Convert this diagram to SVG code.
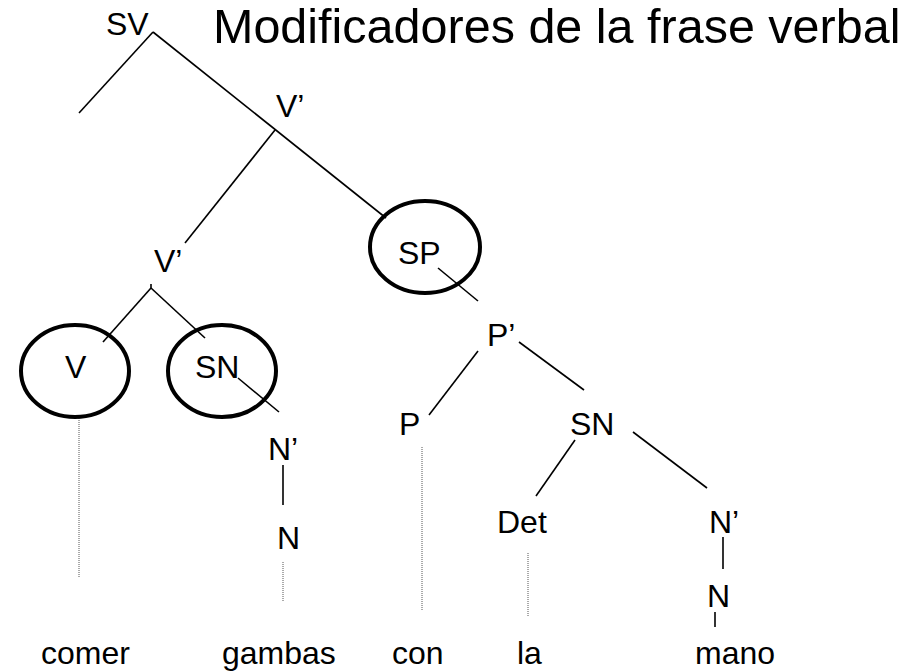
<svg xmlns="http://www.w3.org/2000/svg" width="924" height="671" viewBox="0 0 924 671">
<style>
text{font-family:"Liberation Sans",Arial,sans-serif;font-size:32px;fill:#000}
.title{font-size:48.5px}
.ln{stroke:#000;stroke-width:1.6;fill:none}
.dot{stroke:#555;stroke-width:1;stroke-dasharray:1 1;fill:none}
.circ{stroke:#000;stroke-width:4;fill:none}
</style>
<rect width="924" height="671" fill="#fff"/>
<text class="title" x="213" y="43">Modificadores de la frase verbal</text>
<g id="connectors">
<line class="ln" x1="153" y1="32" x2="79" y2="113"/>
<line class="ln" x1="153" y1="32" x2="386" y2="218"/>
<line class="ln" x1="275" y1="130" x2="185" y2="243"/>
<line class="ln" x1="151" y1="284" x2="151" y2="288"/>
<line class="ln" x1="151" y1="288" x2="103" y2="342"/>
<line class="ln" x1="151" y1="288" x2="205" y2="338"/>
<line class="ln" x1="238" y1="378" x2="279" y2="412"/>
<line class="ln" x1="283" y1="465" x2="283" y2="505"/>
<line class="ln" x1="438" y1="268" x2="478" y2="301"/>
<line class="ln" x1="478" y1="351" x2="429" y2="415"/>
<line class="ln" x1="519" y1="342" x2="584" y2="390"/>
<line class="ln" x1="575" y1="440" x2="536" y2="496"/>
<line class="ln" x1="633" y1="432" x2="707" y2="488"/>
<line class="ln" x1="723" y1="537" x2="723" y2="569"/>
<line class="ln" x1="715" y1="612" x2="715" y2="627"/>
<line class="dot" x1="79" y1="418" x2="79" y2="577"/>
<line class="dot" x1="283" y1="562" x2="283" y2="601"/>
<line class="dot" x1="422" y1="447" x2="422" y2="610"/>
<line class="dot" x1="528" y1="553" x2="528" y2="617"/>
</g>
<g id="SV"><text x="106" y="35">SV</text></g>
<g id="Vbar1"><text x="276" y="117">V’</text></g>
<g id="Vbar2"><text x="154" y="272">V’</text></g>
<g id="V"><ellipse class="circ" cx="75" cy="371" rx="54" ry="46"/><text x="65" y="378">V</text></g>
<g id="SN1"><ellipse class="circ" cx="222" cy="371" rx="54" ry="46"/><text x="195" y="378">SN</text></g>
<g id="Nbar1"><text x="268" y="460">N’</text></g>
<g id="N1"><text x="277" y="549">N</text></g>
<g id="SP"><ellipse class="circ" cx="425" cy="247" rx="55" ry="46"/><text x="398" y="264">SP</text></g>
<g id="Pbar"><text x="487" y="346">P’</text></g>
<g id="P"><text x="399" y="435">P</text></g>
<g id="SN2"><text x="570" y="435">SN</text></g>
<g id="Det"><text x="497" y="533">Det</text></g>
<g id="Nbar2"><text x="709" y="533">N’</text></g>
<g id="N2"><text x="707" y="607">N</text></g>
<g id="words">
<text x="41" y="664">comer</text>
<text x="222" y="664">gambas</text>
<text x="392" y="664">con</text>
<text x="517" y="664">la</text>
<text x="695" y="664">mano</text>
</g>
</svg>
